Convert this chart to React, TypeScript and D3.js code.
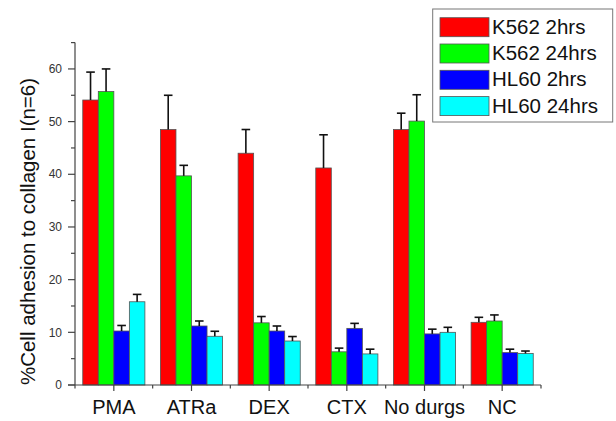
import React from "react";
import * as d3 from "d3";

const categories = ["PMA", "ATRa", "DEX", "CTX", "No durgs", "NC"];
const seriesNames = ["K562 2hrs", "K562 24hrs", "HL60 2hrs", "HL60 24hrs"];
const seriesColors = ["#ff0000", "#00ff00", "#0000ff", "#00ffff"];
const k562_2h = [54.1, 48.5, 44.0, 41.2, 48.5, 11.9];
const k562_2h_err = [5.3, 6.5, 4.5, 6.3, 3.1, 0.95];
const k562_24h = [55.7, 39.7, 11.8, 6.3, 50.1, 12.15];
const k562_24h_err = [4.3, 2.0, 1.2, 0.7, 5.0, 1.15];
const hl60_2h = [10.25, 11.2, 10.25, 10.75, 9.7, 6.15];
const hl60_2h_err = [1.05, 0.95, 0.95, 0.95, 0.9, 0.65];
const hl60_24h = [15.8, 9.25, 8.35, 5.9, 10.0, 6.0];
const hl60_24h_err = [1.4, 0.95, 0.85, 0.9, 0.95, 0.45];
const yTicks = [0, 10, 20, 30, 40, 50, 60];
const yMinorTicks = [5, 15, 25, 35, 45, 55, 65];

const values = [k562_2h, k562_24h, hl60_2h, hl60_24h];
const errors = [k562_2h_err, k562_24h_err, hl60_2h_err, hl60_24h_err];

export default function App() {
  const W = 616, H = 421;
  const left = 75, right = 541, bottom = 385, top = 42.6;
  const x = d3.scaleBand<string>().domain(categories).range([left, right]).padding(0);
  const step = x.bandwidth();
  const inner = d3.scaleBand<string>().domain(seriesNames).range([step * 0.1, step * 0.9]).padding(0);
  const y = d3.scaleLinear().domain([0, 65]).range([bottom, top]);
  const axisColor = "#444";
  const font = "Liberation Sans, Arial, sans-serif";
  const boundaries = d3.range(categories.length + 1).map((i) => left + i * step);

  return (
    <svg width={W} height={H} style={{ position: "absolute", left: 0, top: 0, background: "#fff" }} fontFamily={font}>
      {categories.map((c, ci) => (
        <g key={c}>
          {seriesNames.map((s, si) => {
            const v = values[si][ci];
            const bx = (x(c) as number) + (inner(s) as number);
            const bw = inner.bandwidth();
            return (
              <rect key={s} x={bx} y={y(v)} width={bw} height={bottom - y(v)}
                fill={seriesColors[si]} stroke="#555" strokeWidth={0.8} />
            );
          })}
          {seriesNames.map((s, si) => {
            const v = values[si][ci];
            const e = errors[si][ci];
            const cx = (x(c) as number) + (inner(s) as number) + inner.bandwidth() / 2;
            return (
              <g key={s + "e"} stroke="#111" strokeWidth={1.6}>
                <line x1={cx} x2={cx} y1={y(v)} y2={y(v + e)} />
                <line x1={cx - 4.3} x2={cx + 4.3} y1={y(v + e)} y2={y(v + e)} />
              </g>
            );
          })}
        </g>
      ))}
      <line x1={left} x2={left} y1={bottom} y2={top} stroke={axisColor} strokeWidth={1.2} />
      {yTicks.map((t) => (
        <g key={t}>
          <line x1={left - 7} x2={left} y1={y(t)} y2={y(t)} stroke={axisColor} strokeWidth={1.2} />
          <text x={left - 13} y={y(t)} dy="0.35em" textAnchor="end" fontSize={12} fill="#333">{t}</text>
        </g>
      ))}
      {yMinorTicks.map((t) => (
        <line key={t} x1={left - 4} x2={left} y1={y(t)} y2={y(t)} stroke={axisColor} strokeWidth={1.2} />
      ))}
      <line x1={left - 7} x2={right} y1={bottom} y2={bottom} stroke={axisColor} strokeWidth={1.2} />
      {boundaries.map((b, i) => (
        <line key={i} x1={b} x2={b} y1={bottom} y2={bottom + 3.5} stroke={axisColor} strokeWidth={1.2} />
      ))}
      {categories.map((c) => {
        const cx = (x(c) as number) + step / 2;
        return (
          <g key={c}>
            <line x1={cx} x2={cx} y1={bottom} y2={bottom + 6} stroke={axisColor} strokeWidth={1.2} />
            <text x={cx} y={413.5} textAnchor="middle" fontSize={20} fill="#111">{c}</text>
          </g>
        );
      })}
      <text transform={`translate(35,${(bottom + 70) / 2 + 4}) rotate(-90)`} textAnchor="middle" fontSize={20.5} fill="#111">
        %Cell adhesion to collagen I(n=6)
      </text>
      <rect x={432.7} y={9} width={180} height={113} fill="#fff" stroke="#777" strokeWidth={1} />
      {seriesNames.map((s, si) => (
        <g key={s} transform={`translate(0,${17.7 + si * 26.3})`}>
          <rect x={440} y={0} width={49} height={19} fill={seriesColors[si]} stroke="#555" strokeWidth={0.8} />
          <text x={492} y={16} fontSize={20.5} fill="#111">{s}</text>
        </g>
      ))}
    </svg>
  );
}
